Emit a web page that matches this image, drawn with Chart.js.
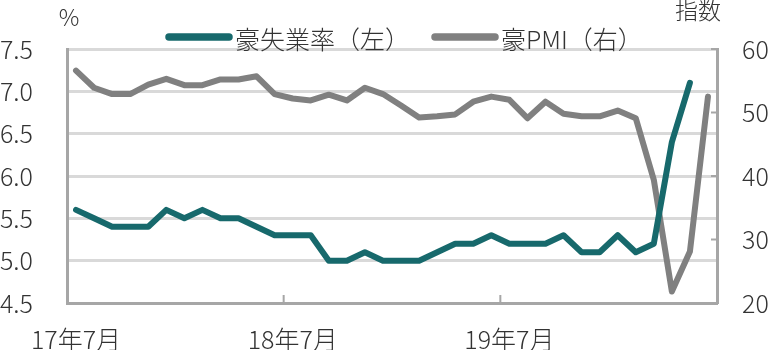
<!DOCTYPE html>
<html>
<head>
<meta charset="utf-8">
<script src="https://cdn.jsdelivr.net/npm/chart.js@4"></script>
<style>
  body { margin: 0; background: #fff; }
  #wrap { width: 772px; height: 352px; }
</style>
</head>
<body>
<div id="wrap"><canvas id="myChart"></canvas></div>
<script>
// months 17年7月 .. 20年6月
const months = [
  "17年7月","17年8月","17年9月","17年10月","17年11月","17年12月",
  "18年1月","18年2月","18年3月","18年4月","18年5月","18年6月",
  "18年7月","18年8月","18年9月","18年10月","18年11月","18年12月",
  "19年1月","19年2月","19年3月","19年4月","19年5月","19年6月",
  "19年7月","19年8月","19年9月","19年10月","19年11月","19年12月",
  "20年1月","20年2月","20年3月","20年4月","20年5月","20年6月"
];

// 豪失業率 (left axis, %)
const unemployment = [
  5.6, 5.5, 5.4, 5.4, 5.4, 5.6, 5.5, 5.6, 5.5, 5.5, 5.4, 5.3,
  5.3, 5.3, 5.0, 5.0, 5.1, 5.0, 5.0, 5.0, 5.1, 5.2, 5.2, 5.3,
  5.2, 5.2, 5.2, 5.3, 5.1, 5.1, 5.3, 5.1, 5.2, 6.4, 7.1
];

// 豪PMI (right axis, index)
const pmi = [
  56.6, 53.9, 52.9, 52.9, 54.4, 55.3, 54.3, 54.3, 55.2, 55.2, 55.7, 52.9,
  52.2, 51.9, 52.8, 51.9, 53.9, 52.9, 51.1, 49.2, 49.4, 49.7, 51.7, 52.5,
  52.0, 49.1, 51.7, 49.8, 49.4, 49.4, 50.3, 49.1, 39.4, 21.8, 28.1, 52.5
];

const leftTicks = { min: 4.5, max: 7.5, step: 0.5 };
const rightTicks = { min: 20, max: 60, step: 10 };
const labelEvery = 12;

const teal = "#17696c";
const gray = "#808080";
const axisGray = "#a6a6a6";
const gridGray = "#d9d9d9";
const textColor = "#333333";
const fontFamily = "'Noto Sans CJK JP', 'Noto Sans', sans-serif";

// legend, axis unit titles and inward tick marks
const extras = {
  id: "extras",
  afterDraw(chart) {
    const c = chart.ctx;
    const area = chart.chartArea;
    const x = chart.scales.x;
    const yR = chart.scales.yR;
    c.save();

    // inward tick marks on x axis (between categories)
    c.strokeStyle = axisGray;
    c.lineWidth = 2;
    for (let i = labelEvery; i < months.length; i += labelEvery) {
      const px = (x.getPixelForValue(i - 1) + x.getPixelForValue(i)) / 2;
      c.beginPath();
      c.moveTo(px, area.bottom);
      c.lineTo(px, area.bottom - 8);
      c.stroke();
    }
    // inward tick marks on right axis
    for (let v = rightTicks.min; v <= rightTicks.max; v += rightTicks.step) {
      const py = yR.getPixelForValue(v);
      c.beginPath();
      c.moveTo(area.right, py);
      c.lineTo(area.right - 6, py);
      c.stroke();
    }

    // unit titles
    c.fillStyle = textColor;
    c.font = "300 23px " + fontFamily;
    c.textAlign = "center";
    c.textBaseline = "middle";
    c.fillText("%", area.left + 2, 17);
    c.fillText("指数", 698, 10);

    // legend
    const items = [
      { text: "豪失業率（左）", color: teal, x: 169 },
      { text: "豪PMI（右）", color: gray, x: 435 }
    ];
    c.lineCap = "round";
    c.lineWidth = 7.5;
    c.font = "300 25px " + fontFamily;
    c.textAlign = "left";
    items.forEach(it => {
      c.strokeStyle = it.color;
      c.beginPath();
      c.moveTo(it.x, 37);
      c.lineTo(it.x + 60, 37);
      c.stroke();
      c.fillText(it.text, it.x + 66, 39);
    });
    c.restore();
  }
};

const chart = new Chart(document.getElementById("myChart"), {
  type: "line",
  data: {
    labels: months,
    datasets: [
      {
        label: "豪失業率（左）",
        data: unemployment,
        yAxisID: "yL",
        borderColor: teal,
        borderWidth: 6,
        pointRadius: 0,
        borderJoinStyle: "round",
        borderCapStyle: "round",
        tension: 0
      },
      {
        label: "豪PMI（右）",
        data: pmi,
        yAxisID: "yR",
        borderColor: gray,
        borderWidth: 6,
        pointRadius: 0,
        borderJoinStyle: "round",
        borderCapStyle: "round",
        tension: 0
      }
    ]
  },
  options: {
    responsive: true,
    maintainAspectRatio: false,
    animation: false,
    layout: { padding: { top: 34, left: 0, right: 0, bottom: 0 } },
    plugins: {
      legend: { display: false },
      tooltip: { enabled: false }
    },
    scales: {
      x: {
        offset: true,
        grid: { display: false, drawTicks: false },
        border: { color: axisGray, width: 3 },
        ticks: {
          autoSkip: false,
          maxRotation: 0,
          padding: 21,
          color: textColor,
          font: { family: fontFamily, size: 25, weight: "300" },
          callback: (v, i) => (i % labelEvery === 0 ? months[i] : "")
        },
        afterFit: s => { s.height = 47; }
      },
      yL: {
        position: "left",
        min: leftTicks.min,
        max: leftTicks.max,
        grid: { color: gridGray, lineWidth: 3, drawTicks: false },
        border: { color: axisGray, width: 3 },
        ticks: {
          stepSize: leftTicks.step,
          padding: 34,
          color: textColor,
          font: { family: fontFamily, size: 25, weight: "300" },
          callback: v => v.toFixed(1)
        },
        afterFit: s => { s.width = 67; }
      },
      yR: {
        position: "right",
        min: rightTicks.min,
        max: rightTicks.max,
        grid: { drawOnChartArea: false, drawTicks: false },
        border: { color: axisGray, width: 3 },
        ticks: {
          stepSize: rightTicks.step,
          padding: 25,
          color: textColor,
          font: { family: fontFamily, size: 25, weight: "300" }
        },
        afterFit: s => { s.width = 55; }
      }
    }
  },
  plugins: [extras]
});
</script>
</body>
</html>
